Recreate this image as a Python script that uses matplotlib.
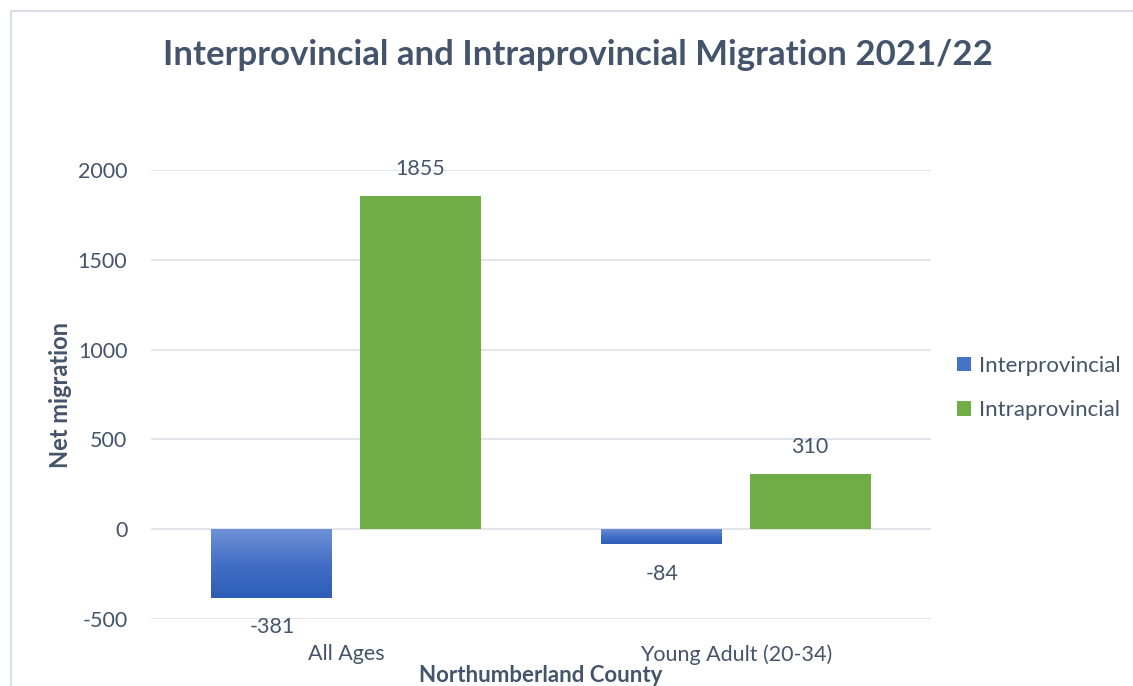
import matplotlib
matplotlib.use("Agg")
import matplotlib.pyplot as plt
import numpy as np
from matplotlib.colors import LinearSegmentedColormap
from matplotlib.lines import Line2D
from matplotlib.patches import Patch

categories = ["All Ages", "Young Adult (20-34)"]
interprovincial = [-381, -84]
intraprovincial = [1855, 310]
series_names = ["Interprovincial", "Intraprovincial"]
yticks = [-500, 0, 500, 1000, 1500, 2000]

TEXT = "#44546A"
FONT = "Lato"
plt.rcParams["font.family"] = [FONT, "DejaVu Sans"]

fig = plt.figure(figsize=(11.33, 6.86), dpi=100)
ax = fig.add_axes([151/1133, 1-619/686, 780/1133, 449/686])

x = np.arange(len(categories))
w = 0.31
off = 0.19
b1 = ax.bar(x - off, interprovincial, w, color="#4472C4", zorder=3)
b2 = ax.bar(x + off, intraprovincial, w, color="#70AD47", zorder=3)

# gradient for blue bars
cmap = LinearSegmentedColormap.from_list("bl", ["#2E5DB6", "#4370C6", "#6F92D6"])
grad = np.linspace(0, 1, 256).reshape(-1, 1)
for p in b1:
    x0, y0 = p.get_x(), p.get_y()
    x1, y1 = x0 + p.get_width(), y0 + p.get_height()
    lo, hi = min(y0, y1), max(y0, y1)
    im = ax.imshow(grad, cmap=cmap, extent=[x0, x1, lo, hi], origin="lower",
                   aspect="auto", zorder=4)
    im.set_clip_path(p)

ax.set_xlim(-0.5, 1.5)
ax.set_ylim(-500, 2000)
ax.set_yticks(yticks)
ax.set_yticklabels([str(t) for t in yticks])
ax.set_xticks(x)
ax.set_xticklabels(categories)
ax.yaxis.grid(True, color="#DFE3EA", linewidth=1.3, zorder=0)
ax.set_axisbelow(True)
for s in ax.spines.values():
    s.set_visible(False)
ax.tick_params(axis="both", length=0, colors=TEXT, labelsize=15.5)
ax.tick_params(axis="y", pad=17)
ax.tick_params(axis="x", pad=18)

for p, v in zip(b1, interprovincial):
    ax.annotate(str(v), (p.get_x() + p.get_width()/2, v), xytext=(0, -14),
                textcoords="offset points", ha="center", va="top",
                fontsize=15.5, color=TEXT)
for p, v in zip(b2, intraprovincial):
    ax.annotate(str(v), (p.get_x() + p.get_width()/2, v), xytext=(0, 12),
                textcoords="offset points", ha="center", va="bottom",
                fontsize=15.5, color=TEXT)

ax.set_ylabel("Net migration", fontsize=17, fontweight="bold", color=TEXT, labelpad=4)
ax.set_xlabel("Northumberland County", fontsize=16, fontweight="bold", color=TEXT, labelpad=0)

fig.text(578/1133, 1-55/686, "Interprovincial and Intraprovincial Migration 2021/22",
         ha="center", va="center", fontsize=25, fontweight="bold", color=TEXT)

handles = [Patch(facecolor="#4472C4"), Patch(facecolor="#70AD47")]
fig.legend(handles, series_names, loc="center left", bbox_to_anchor=(937/1133, 1-388/686),
           frameon=False, fontsize=16, labelcolor=TEXT, handlelength=0.65, handleheight=0.65,
           handletextpad=0.35, labelspacing=1.1)

# chart border (top and left visible)
fig.add_artist(Line2D([11/1133, 1], [1-11/686, 1-11/686], color="#D9DEE7", linewidth=1.5,
                      transform=fig.transFigure))
fig.add_artist(Line2D([11/1133, 11/1133], [0, 1-11/686], color="#D9DEE7", linewidth=1.5,
                      transform=fig.transFigure))

fig.savefig("out.png", dpi=100)
